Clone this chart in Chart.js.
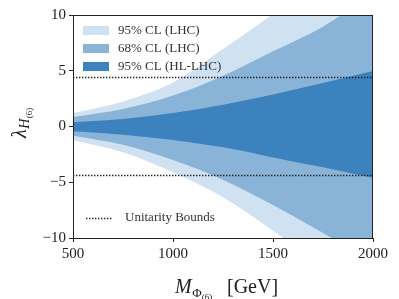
<!DOCTYPE html>
<html>
<head>
<meta charset="utf-8">
<script src="https://cdn.jsdelivr.net/npm/chart.js@4.4.1/dist/chart.umd.min.js"></script>
<style>
  html, body { margin: 0; padding: 0; background: #fff; }
  #wrap { width: 399px; height: 299px; }
</style>
</head>
<body>
<div id="wrap"><canvas id="myChart" width="399" height="299"></canvas></div>
<script>
// masses in GeV
const masses = [500, 750, 1000, 1250, 1500, 1750, 2000];

// band edges
const lhc95Upper = [1.2, 2.25, 3.95, 6.95, 10.1, 13.6, 17.5];
const lhc95Lower = [-1.2, -2.3, -4.1, -6.35, -9.35, -12.6, -16.0];
const lhc68Upper = [0.85, 1.57, 2.77, 4.56, 6.75, 8.95, 12.0];
const lhc68Lower = [-0.82, -1.63, -3.0, -4.77, -7.05, -9.55, -12.2];
const hl95Upper = [0.38, 0.67, 1.21, 1.96, 2.88, 3.9, 4.97];
const hl95Lower = [-0.42, -0.73, -1.21, -1.87, -2.77, -3.66, -4.62];

// unitarity bound
const unitarity = 4.4;

const xTicks = [500, 1000, 1500, 2000];
const yTicks = [-10, -5, 0, 5, 10];

const colLight = "rgb(208,225,242)";
const colMid = "rgb(137,180,216)";
const colDark = "rgb(60,130,190)";

const FONT = "'Liberation Serif', 'DejaVu Serif', serif";

const pts = (ys) => masses.map((m, i) => ({ x: m, y: ys[i] }));
const flat = (v) => [masses[0], masses[masses.length - 1]].map((m) => ({ x: m, y: v }));

function band(upper, lower, color) {
  return [
    { data: pts(upper), backgroundColor: color, borderWidth: 0, pointRadius: 0,
      fill: "+1", cubicInterpolationMode: "monotone" },
    { data: pts(lower), backgroundColor: color, borderWidth: 0, pointRadius: 0,
      fill: false, cubicInterpolationMode: "monotone" },
  ];
}

const dotted = (v) => ({
  data: flat(v), borderColor: "#222", borderWidth: 1.4, borderDash: [1.4, 1.6],
  pointRadius: 0, fill: false,
});

// legend, frame and axis titles
const extras = {
  id: "extras",
  afterDraw(chart) {
    const c = chart.ctx;
    const a = chart.chartArea;
    c.save();
    // frame
    c.strokeStyle = "#222";
    c.lineWidth = 1;
    c.strokeRect(a.left + 0.5, a.top + 0.5, a.right - a.left - 1, a.bottom - a.top);

    // legend
    const items = [
      ["95% CL (LHC)", colLight, 26],
      ["68% CL (LHC)", colMid, 44],
      ["95% CL (HL-LHC)", colDark, 62],
    ];
    c.font = "13px " + FONT;
    c.textBaseline = "middle";
    items.forEach(([t, col, y]) => {
      c.fillStyle = col;
      c.fillRect(83, y, 26, 9);
      c.fillStyle = "#333";
      c.fillText(t, 118, y + 5);
    });
    c.strokeStyle = "#222";
    c.lineWidth = 1.4;
    c.setLineDash([1.4, 1.6]);
    c.beginPath();
    c.moveTo(86, 218.5);
    c.lineTo(113, 218.5);
    c.stroke();
    c.setLineDash([]);
    c.fillStyle = "#333";
    c.fillText("Unitarity Bounds", 125, 218);

    // x title
    c.fillStyle = "#222";
    c.textBaseline = "alphabetic";
    let x = 175;
    c.font = "italic 20px " + FONT;
    c.fillText("M", x, 293);
    x += c.measureText("M").width + 0.5;
    c.font = "13px " + FONT;
    c.fillText("Φ", x, 297);
    x += c.measureText("Φ").width;
    c.font = "9px " + FONT;
    c.fillText("(6)", x, 300);
    c.font = "20px " + FONT;
    c.fillText("[GeV]", 227, 293);

    // y title
    c.translate(26, 138);
    c.rotate(-Math.PI / 2);
    let t = 0;
    c.font = "italic 20px " + FONT;
    c.fillText("λ", t, 0);
    t += c.measureText("λ").width + 0.5;
    c.font = "italic 14px " + FONT;
    c.fillText("H", t, 3);
    t += c.measureText("H").width + 0.5;
    c.font = "9px " + FONT;
    c.fillText("(6)", t, 6);
    c.restore();
  },
};

const ctx = document.querySelector("#myChart");

const myChart = new Chart(ctx, {
  type: "line",
  data: {
    datasets: [
      dotted(unitarity),
      dotted(-unitarity),
      ...band(hl95Upper, hl95Lower, colDark),
      ...band(lhc68Upper, lhc68Lower, colMid),
      ...band(lhc95Upper, lhc95Lower, colLight),
    ],
  },
  options: {
    responsive: false,
    animation: { duration: 0 },
    layout: { padding: { left: 0, top: 15, right: 26, bottom: 0 } },
    plugins: {
      legend: false,
      tooltip: { enabled: false },
    },
    scales: {
      x: {
        type: "linear",
        min: 500,
        max: 2000,
        afterBuildTicks: (s) => { s.ticks = xTicks.map((v) => ({ value: v })); },
        afterFit: (s) => { s.height = 61; },
        grid: { drawOnChartArea: false, drawTicks: true, tickLength: 4, color: "#222" },
        border: { display: true, color: "#222", width: 1 },
        ticks: {
          color: "#222",
          padding: 3,
          font: { family: FONT, size: 15 },
          callback: (v) => String(v),
        },
      },
      y: {
        type: "linear",
        min: -10,
        max: 10,
        afterBuildTicks: (s) => { s.ticks = yTicks.map((v) => ({ value: v })); },
        afterFit: (s) => { s.width = 73; },
        grid: { drawOnChartArea: false, drawTicks: true, tickLength: 4, color: "#222" },
        border: { display: true, color: "#222", width: 1 },
        ticks: {
          color: "#222",
          padding: 3,
          font: { family: FONT, size: 15 },
          callback: (v) => String(v).replace("-", "\u2212"),
        },
      },
    },
  },
  plugins: [extras],
});
</script>
</body>
</html>
